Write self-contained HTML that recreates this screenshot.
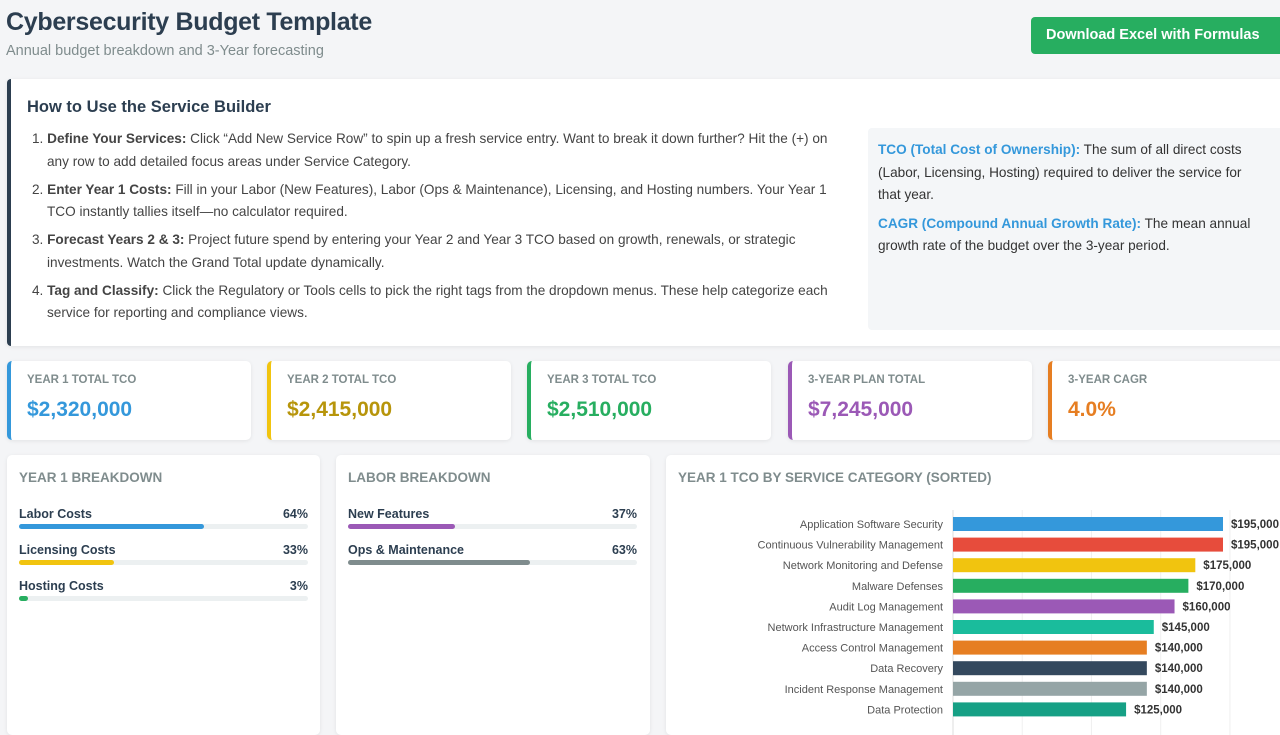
<!DOCTYPE html>
<html><head><meta charset="utf-8"><style>
*{box-sizing:border-box;margin:0;padding:0}
body{width:1280px;height:720px;overflow:hidden;background:#f4f5f7;font-family:"Liberation Sans","DejaVu Sans",sans-serif;color:#2c3e50;position:relative}
.abs{position:absolute}
h1{position:absolute;left:6px;top:8px;font-size:25px;font-weight:bold;color:#2c3e50;letter-spacing:-0.3px}
.sub{left:6px;top:43px;font-size:14.5px;color:#7f8c8d}
.btn{left:1031px;top:17px;width:260px;height:37px;background:#27ae60;color:#fff;border-radius:4px;font-weight:bold;font-size:14.5px;line-height:37px;padding-left:15px}
.info{left:7px;top:79px;width:1290px;height:267px;background:#fff;border-left:4px solid #2c3e50;border-radius:4px;box-shadow:0 1px 4px rgba(0,0,0,.08)}
.info h2{position:absolute;left:16px;top:19px;font-size:16.5px;font-weight:bold}
.info ol{position:absolute;left:21px;top:49px;width:815px;font-size:13.6px;line-height:22.5px;color:#444;list-style:none}
.info li{margin-bottom:5.5px;padding-left:15px;text-indent:-15px}
.side{left:868px;top:128px;width:420px;height:202px;background:#f4f6f8;border-radius:4px;padding:11px 30px 11px 10px;font-size:13.6px;line-height:22.5px;color:#333}
.side b{color:#3498db}
.card{top:361px;width:244px;height:79px;background:#fff;border-radius:5px;box-shadow:0 1px 4px rgba(0,0,0,.08);border-left:4px solid}
.card .l{position:absolute;left:16px;top:13px;font-size:11.5px;font-weight:bold;color:#7f8c8d}
.card .v{position:absolute;left:16px;top:37px;font-size:21px;font-weight:bold}
.panel{top:455px;height:280px;background:#fff;border-radius:5px;box-shadow:0 1px 4px rgba(0,0,0,.08)}
.panel .t{position:absolute;left:12px;top:15px;font-size:13.5px;font-weight:bold;color:#7f8c8d}
.row{position:absolute;left:12px;width:289px;font-size:12.5px;font-weight:bold}
.row span{position:absolute;right:0;top:0}
.track{position:absolute;left:0;top:17px;width:100%;height:5px;background:#ecf0f1;border-radius:3px}
.fill{height:5px;border-radius:3px}
</style></head><body>
<h1>Cybersecurity Budget Template</h1>
<div class="abs sub">Annual budget breakdown and 3-Year forecasting</div>
<div class="abs btn">Download Excel with Formulas</div>
<div class="abs info">
<h2>How to Use the Service Builder</h2>
<ol>
<li>1. <b>Define Your Services:</b> Click “Add New Service Row” to spin up a fresh service entry. Want to break it down further? Hit the (+) on any row to add detailed focus areas under Service Category.</li>
<li>2. <b>Enter Year 1 Costs:</b> Fill in your Labor (New Features), Labor (Ops &amp; Maintenance), Licensing, and Hosting numbers. Your Year 1 TCO instantly tallies itself—no calculator required.</li>
<li>3. <b>Forecast Years 2 &amp; 3:</b> Project future spend by entering your Year 2 and Year 3 TCO based on growth, renewals, or strategic investments. Watch the Grand Total update dynamically.</li>
<li>4. <b>Tag and Classify:</b> Click the Regulatory or Tools cells to pick the right tags from the dropdown menus. These help categorize each service for reporting and compliance views.</li>
</ol></div>
<div class="abs side">
<div style="margin-bottom:6px"><b>TCO (Total Cost of Ownership):</b> The sum of all direct costs (Labor, Licensing, Hosting) required to deliver the service for that year.</div>
<div><b>CAGR (Compound Annual Growth Rate):</b> The mean annual growth rate of the budget over the 3-year period.</div>
</div>
<div class="abs card" style="left:7px;border-color:#3498db"><div class="l">YEAR 1 TOTAL TCO</div><div class="v" style="color:#3498db">$2,320,000</div></div>
<div class="abs card" style="left:267px;border-color:#f1c40f"><div class="l">YEAR 2 TOTAL TCO</div><div class="v" style="color:#b7950b">$2,415,000</div></div>
<div class="abs card" style="left:527px;border-color:#27ae60"><div class="l">YEAR 3 TOTAL TCO</div><div class="v" style="color:#27ae60">$2,510,000</div></div>
<div class="abs card" style="left:788px;border-color:#9b59b6"><div class="l">3-YEAR PLAN TOTAL</div><div class="v" style="color:#9b59b6">$7,245,000</div></div>
<div class="abs card" style="left:1048px;border-color:#e67e22"><div class="l">3-YEAR CAGR</div><div class="v" style="color:#e67e22">4.0%</div></div>

<div class="abs panel" style="left:7px;width:313px">
<div class="t">YEAR 1 BREAKDOWN</div>
<div class="row" style="top:52px">Labor Costs<span>64%</span><div class="track"><div class="fill" style="width:64%;background:#3498db"></div></div></div>
<div class="row" style="top:88px">Licensing Costs<span>33%</span><div class="track"><div class="fill" style="width:33%;background:#f1c40f"></div></div></div>
<div class="row" style="top:124px">Hosting Costs<span>3%</span><div class="track"><div class="fill" style="width:3%;background:#27ae60"></div></div></div>
</div>
<div class="abs panel" style="left:336px;width:314px">
<div class="t">LABOR BREAKDOWN</div>
<div class="row" style="top:52px">New Features<span>37%</span><div class="track"><div class="fill" style="width:37%;background:#9b59b6"></div></div></div>
<div class="row" style="top:88px">Ops &amp; Maintenance<span>63%</span><div class="track"><div class="fill" style="width:63%;background:#7f8c8d"></div></div></div>
</div>
<div class="abs panel" style="left:666px;width:630px">
<div class="t">YEAR 1 TCO BY SERVICE CATEGORY (SORTED)</div>
<svg id="chart" class="abs" style="left:0;top:0" width="630" height="280"></svg>
</div>
<script>
const categories=["Application Software Security","Continuous Vulnerability Management","Network Monitoring and Defense","Malware Defenses","Audit Log Management","Network Infrastructure Management","Access Control Management","Data Recovery","Incident Response Management","Data Protection"];
const values=[195000,195000,175000,170000,160000,145000,140000,140000,140000,125000];
const colors=["#3498db","#e74c3c","#f1c40f","#27ae60","#9b59b6","#1abc9c","#e67e22","#34495e","#95a5a6","#16a085"];
const ticks=[0,50000,100000,150000,200000];
const svg=document.getElementById('chart');
const NS="http://www.w3.org/2000/svg";
const x0=287, pxPer=270/195000;
const xs=v=>x0+v*pxPer;
const ys=i=>69+i*20.6;
function mk(t,a){const e=document.createElementNS(NS,t);for(const k in a)e.setAttribute(k,a[k]);svg.appendChild(e);return e;}
ticks.forEach(t=>{const g=mk('line',{x1:xs(t),x2:xs(t),y1:55,y2:280,stroke:t===0?'#ddd':'#f0f0f0','stroke-width':1});

});
categories.forEach((c,i)=>{
const y=ys(i);
const l=mk('text',{x:x0-10,y:y+4,'text-anchor':'end','font-size':11,fill:'#555','font-family':'Liberation Sans, sans-serif'});l.textContent=c;


const r=mk('rect',{x:x0,y:y-7,width:xs(values[i])-x0,height:14,fill:colors[i]});


const v=mk('text',{x:xs(values[i])+8,y:y+4,'font-size':11.5,'font-weight':'bold',fill:'#333','font-family':'Liberation Sans, sans-serif'});v.textContent='$'+values[i].toLocaleString('en-US');


});
</script>
</body></html>
